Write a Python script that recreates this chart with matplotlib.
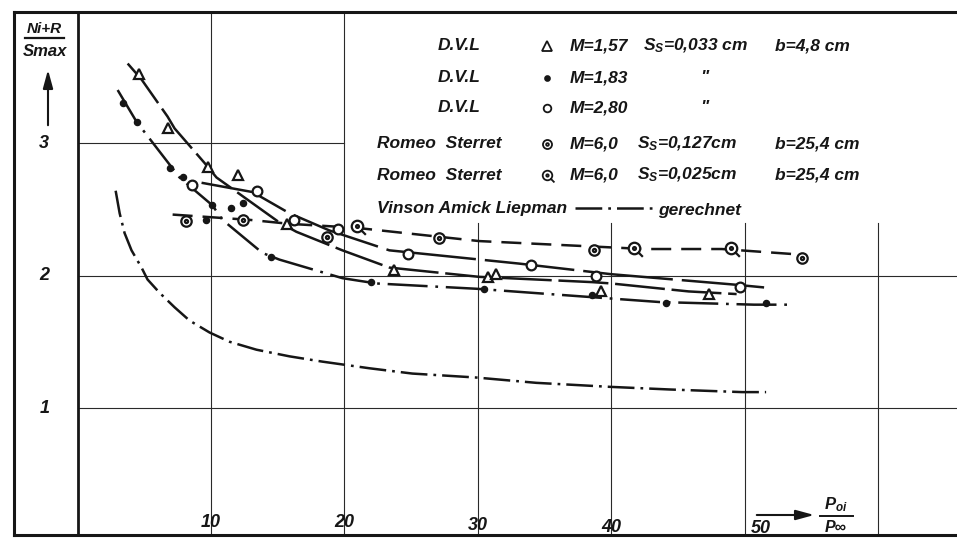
import matplotlib
matplotlib.use("Agg")
import matplotlib.pyplot as plt
from matplotlib.path import Path

plt.rcParams['font.family'] = ['Liberation Sans', 'DejaVu Sans']
plt.rcParams['font.style'] = 'italic'
plt.rcParams['font.weight'] = 'bold'
plt.rcParams['mathtext.fontset'] = 'custom'
plt.rcParams['mathtext.rm'] = 'Liberation Sans:italic:bold'
plt.rcParams['mathtext.it'] = 'Liberation Sans:italic:bold'

INK = '#161616'

# D.V.L  M = 1.57 (triangles)
tri_x = [4.57, 6.74, 9.74, 11.99, 15.66, 23.75, 30.79, 31.39, 39.25, 47.34]
tri_y = [3.52, 3.11, 2.82, 2.76, 2.39, 2.04, 1.99, 2.01, 1.88, 1.86]
tri_curve_x = [3.75, 4.79, 6.74, 7.27, 9.51, 10.41, 15.13, 16.40, 19.85, 23.37, 30.1, 38.6, 40.0, 45.8, 49.4]
tri_curve_y = [3.60, 3.48, 3.20, 3.11, 2.85, 2.74, 2.40, 2.33, 2.19, 2.06, 1.99, 1.95, 1.94, 1.88, 1.86]

# D.V.L  M = 1.83 (dots)
dot_x = [3.37, 4.42, 6.89, 7.87, 9.59, 10.04, 11.46, 12.36, 14.53, 22.02, 30.49, 38.58, 44.12, 51.61]
dot_y = [3.30, 3.16, 2.81, 2.74, 2.42, 2.53, 2.51, 2.55, 2.14, 1.95, 1.90, 1.85, 1.79, 1.79]
dot_curve_x = [3.0, 4.42, 7.64, 10.1, 10.86, 13.86, 15.13, 19.85, 22.4, 29.9, 38.1, 43.6, 50.7, 53.2]
dot_curve_y = [3.40, 3.16, 2.74, 2.53, 2.42, 2.17, 2.12, 1.98, 1.94, 1.90, 1.84, 1.80, 1.78, 1.78]

# D.V.L  M = 2.80 (open circles)
circ_x = [8.54, 13.48, 16.25, 19.55, 24.79, 34.0, 38.88, 49.66]
circ_y = [2.68, 2.64, 2.42, 2.35, 2.16, 2.08, 2.00, 1.91]
circ_curve_x = [9.29, 13.11, 15.88, 18.88, 23.37, 33.1, 40.0, 49.4, 51.46]
circ_curve_y = [2.70, 2.63, 2.47, 2.34, 2.19, 2.09, 2.01, 1.93, 1.91]

# Romeo Sterret  M = 6.0
rs1_x = [8.16, 12.36, 18.73, 27.12, 38.73, 54.3]
rs1_y = [2.41, 2.42, 2.29, 2.28, 2.19, 2.13]
rs2_x = [20.97, 41.72, 48.99]
rs2_y = [2.37, 2.21, 2.21]
rs_curve_x = [7.12, 12.9, 15.9, 20.9, 26.4, 30.1, 38.4, 42.5, 48.3, 53.9]
rs_curve_y = [2.46, 2.42, 2.39, 2.36, 2.30, 2.26, 2.22, 2.20, 2.20, 2.16]

# Vinson Amick Liepman (gerechnet)
vin_x = [2.85, 3.15, 3.52, 4.04, 4.79, 5.24, 6.14, 7.27, 8.39, 9.89, 11.39, 13.41,
         15.88, 18.35, 21.87, 25.09, 29.89, 34.38, 39.85, 44.34, 49.81, 51.61]
vin_y = [2.64, 2.47, 2.32, 2.19, 2.06, 1.97, 1.87, 1.76, 1.66, 1.57, 1.50, 1.44,
         1.39, 1.35, 1.30, 1.26, 1.23, 1.19, 1.16, 1.14, 1.12, 1.12]

x_ticks = [10, 20, 30, 40, 50]
x_tick_labels = ['10', '20', '30', '40', '50']
y_ticks = [1, 2, 3]
y_tick_labels = ['1', '2', '3']

W, H = 957, 541
fig = plt.figure(figsize=(W / 100, H / 100), dpi=100)
fig.patch.set_facecolor('white')


def fp(px, py):
    return px / W, 1 - py / H


ax = fig.add_axes([14 / W, 6 / H, 943 / W, 523 / H])
ax.set_xlim(-4.77, 65.92)
ax.set_ylim(0.0415, 3.989)
ax.set_xticks([])
ax.set_yticks([])
for side in ['left', 'top', 'bottom']:
    ax.spines[side].set_linewidth(2.2)
    ax.spines[side].set_color(INK)
ax.spines['right'].set_visible(False)

# grid, drawn partially like the original sheet
grid_kw = dict(color='#2a2a2a', lw=0.8, zorder=1)
ax.axvline(0, color=INK, lw=2.0, zorder=2)
ax.plot([0, 20], [3, 3], **grid_kw)
for yv in [1, 2]:
    ax.plot([0, 66], [yv, yv], **grid_kw)
ax.plot([10, 10], [0, 4], **grid_kw)
ax.plot([20, 20], [0, 4], **grid_kw)
for xv in [30, 40, 50, 60]:
    ax.plot([xv, xv], [0, 2.4], **grid_kw)

lw = 1.8
ax.plot(tri_curve_x, tri_curve_y, color=INK, lw=lw, dashes=(20, 2.7), zorder=3)
ax.plot(dot_curve_x, dot_curve_y, color=INK, lw=lw, dashes=(16, 3.1, 1.1, 3.1), zorder=3)
ax.plot(circ_curve_x, circ_curve_y, color=INK, lw=lw, dashes=(36, 3.6), zorder=3)
ax.plot(rs_curve_x, rs_curve_y, color=INK, lw=lw, dashes=(8, 4), zorder=3)
ax.plot(vin_x, vin_y, color=INK, lw=lw, dashes=(10.7, 2.4, 1.1, 2.4), zorder=3)

# markers
q_path = Path.make_compound_path(
    Path.unit_circle(),
    Path.circle(radius=0.25),
    Path([(0.65, -0.65), (1.45, -1.45)], [Path.MOVETO, Path.LINETO]))
dot_in_circle = Path.make_compound_path(Path.unit_circle(), Path.circle(radius=0.3))

mk = dict(ls='none', color=INK, mfc='white', mec=INK, zorder=5)
ax.plot(tri_x, tri_y, marker='^', ms=7.5, mew=1.6, **mk)
ax.plot(dot_x, dot_y, marker='o', ms=4.4, ls='none', color=INK, zorder=5)
ax.plot(circ_x, circ_y, marker='o', ms=7, mew=1.6, **mk)
ax.plot(rs1_x, rs1_y, marker=dot_in_circle, ms=7.5, mew=1.6, **mk)
ax.plot(rs2_x, rs2_y, marker=q_path, ms=12, mew=1.6, **mk)

# axis labels inside the frame
fs = 12.5
for xv, lab, py in zip(x_ticks, x_tick_labels, [523, 523, 526, 528, 529]):
    dx = 1.2 if xv == 50 else 0
    ax.text(xv + dx, (540.5 - py) / 132.5, lab, ha='center', va='center', fontsize=13, color=INK)
for yv, lab in zip(y_ticks, y_tick_labels):
    ax.text(-2.5, yv, lab, ha='center', va='center', fontsize=13, color=INK)

fig.text(*fp(44, 29), 'Ni+R', ha='center', va='center', fontsize=11, color=INK)
fig.add_artist(plt.Line2D([25 / W, 64 / W], [1 - 38 / H, 1 - 38 / H], color=INK, lw=1.6))
fig.text(*fp(45, 52), 'Smax', ha='center', va='center', fontsize=12, color=INK)
ax.annotate('', xy=fp(48, 67), xytext=fp(48, 128), xycoords='figure fraction',
            textcoords='figure fraction',
            arrowprops=dict(arrowstyle='-|>,head_length=1.1,head_width=0.3', color=INK, lw=1.5))

ax.annotate('', xy=fp(817, 515), xytext=fp(754, 515), xycoords='figure fraction',
            textcoords='figure fraction',
            arrowprops=dict(arrowstyle='-|>,head_length=1.1,head_width=0.3', color=INK, lw=1.5))
fig.text(*fp(836, 505), '$P_{oi}$', ha='center', va='center', fontsize=12, color=INK)
fig.add_artist(plt.Line2D([820 / W, 853 / W], [1 - 516 / H, 1 - 516 / H], color=INK, lw=1.4))
fig.text(*fp(836, 527), 'P\u221e', ha='center', va='center', fontsize=11.5, color=INK)

# legend block
rows = [46, 78, 108, 144, 175, 208]
names = ['D.V.L', 'D.V.L', 'D.V.L', 'Romeo  Sterret', 'Romeo  Sterret']
name_x = [438, 438, 438, 377, 377]
mach = ['M=1,57', 'M=1,83', 'M=2,80', 'M=6,0', 'M=6,0']
slot = ['$S_S$=0,033 cm', '"', '"', '$S_S$=0,127cm', '$S_S$=0,025cm']
slot_x = [643, 700, 700, 637, 637]
breite = ['b=4,8 cm', '', '', 'b=25,4 cm', 'b=25,4 cm']
for i in range(5):
    py = rows[i]
    fig.text(*fp(name_x[i], py), names[i], ha='left', va='center', fontsize=fs, color=INK)
    fig.text(*fp(570, py), mach[i], ha='left', va='center', fontsize=fs, color=INK)
    fig.text(*fp(slot_x[i], py), slot[i], ha='left', va='center', fontsize=fs, color=INK)
    if breite[i]:
        fig.text(*fp(775, py), breite[i], ha='left', va='center', fontsize=fs, color=INK)

leg_markers = [('^', 6.5, 'white'), ('o', 3.5, INK), ('o', 5.5, 'white'),
               (dot_in_circle, 6.5, 'white'), (q_path, 10, 'white')]
for (m, s, fc), py in zip(leg_markers, rows[:5]):
    ax.plot([547 / W], [1 - py / H], marker=m, ms=s, mfc=fc, mec=INK, mew=1.3,
            ls='none', transform=fig.transFigure, clip_on=False, zorder=6)

fig.text(*fp(377, rows[5]), 'Vinson Amick Liepman', ha='left', va='center', fontsize=fs, color=INK)
ax.plot([575 / W, 652 / W], [1 - rows[5] / H] * 2, color=INK, lw=lw,
        dashes=(10.7, 2.4, 1.1, 2.4), transform=fig.transFigure, clip_on=False)
fig.text(*fp(658, rows[5] + 2), 'gerechnet', ha='left', va='center', fontsize=fs, color=INK)

fig.savefig('out.png', dpi=100, facecolor='white')
